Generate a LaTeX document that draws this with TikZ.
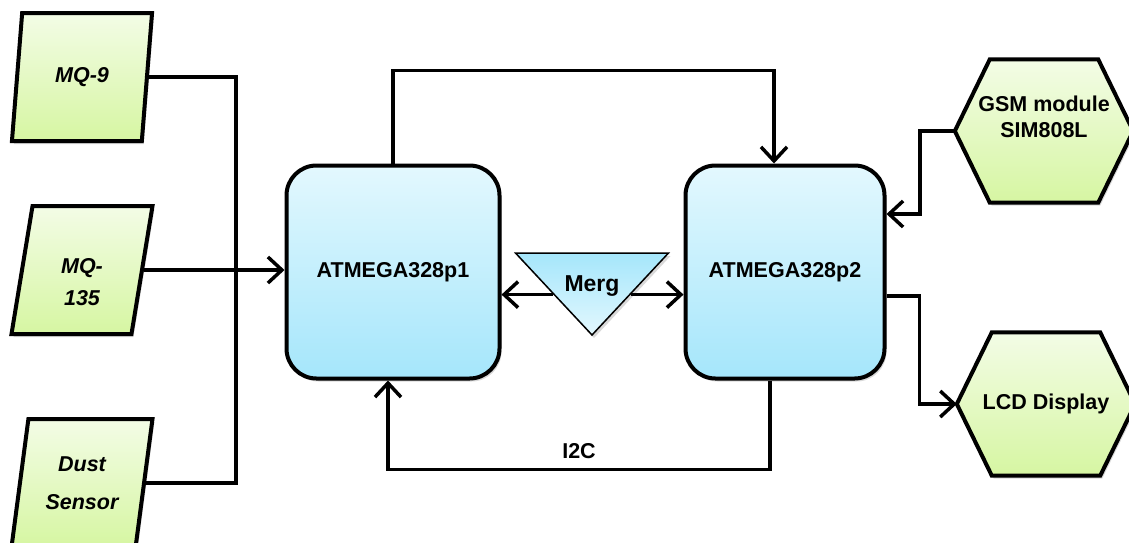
\documentclass[tikz,border=0pt]{standalone}
\usepackage{fontspec}
\setmainfont{Liberation Sans}
\usetikzlibrary{shapes.geometric,arrows.meta,shadows,backgrounds}
\definecolor{greentop}{HTML}{F3FCE6}
\definecolor{greenbot}{HTML}{D6F6A2}
\definecolor{bluetop}{HTML}{E3F8FE}
\definecolor{bluebot}{HTML}{A5E6FB}
\tikzstyle{softshadow} = [drop shadow={opacity=0.3, shadow xshift=2pt, shadow yshift=-3pt}]
\tikzstyle{sensor} = [trapezium, trapezium left angle=78, trapezium right angle=102, trapezium stretches=true, minimum width=141pt, minimum height=128pt, inner sep=2pt, draw=black, line width=4pt, top color=greentop, bottom color=greenbot, softshadow, align=center, font=\fontsize{21.5}{38}\selectfont\bfseries\itshape]
\tikzstyle{mcu} = [rectangle, rounded corners=30pt, minimum height=213pt, draw=black, line width=4pt, top color=bluetop, bottom color=bluebot, softshadow, font=\fontsize{21.5}{24}\selectfont\bfseries]
\tikzstyle{periph} = [rectangle, minimum width=178pt, minimum height=143pt, inner sep=2pt, align=center, font=\fontsize{21.5}{26}\selectfont\bfseries]
\tikzstyle{hexbox} = [draw=black, line width=4pt, top color=greentop, bottom color=greenbot, softshadow]
\tikzstyle{merge} = [isosceles triangle, shape border rotate=270, isosceles triangle stretches, minimum width=153pt, minimum height=82pt, inner sep=1pt, draw=black, line width=1.5pt, top color=bluebot, bottom color=bluetop, softshadow]
\tikzstyle{wire} = [line width=3.5pt]
\tikzstyle{arrow} = [line width=3.5pt, -{Straight Barb[length=14pt,width=26pt]}]

\begin{document}
\begin{tikzpicture}[x=1pt, y=-1pt]
\clip (0,0) rectangle (1129,542);

\node (mq9) [sensor] at (82,77) {MQ-9};
\node (mq135) [sensor, label={[align=center, font=\fontsize{21.5}{32}\selectfont\bfseries\itshape, yshift=-12pt]center:{MQ-\\135}}] at (82,270) {};
\node (dust) [sensor] at (82,483) {Dust\\Sensor};
\node (p1) [mcu, minimum width=213pt] at (393,272) {ATMEGA328p1};
\node (p2) [mcu, minimum width=199pt] at (785,272) {ATMEGA328p2};
\node (merg) [merge, label={[font=\fontsize{23}{26}\selectfont\bfseries]center:Merg}] at (592,286) {};
\node (gsm) [periph, label={[align=center, font=\fontsize{21.5}{26}\selectfont\bfseries, yshift=14pt]center:{GSM module\\SIM808L}}] at (1044,131) {};
\node (lcd) [periph] at (1046,404) {LCD Display};
\coordinate (bus) at (236,273);

\begin{scope}[on background layer]
\foreach \n in {gsm,lcd}
  \draw [hexbox] (\n.west) -- ([xshift=35pt]\n.north west) -- ([xshift=-35pt]\n.north east) -- (\n.east) -- ([xshift=-35pt]\n.south east) -- ([xshift=35pt]\n.south west) -- cycle;
\end{scope}

\draw [wire] (mq9.east) -| (bus);
\draw [wire] (dust.east) -| (bus);
\draw [arrow] (mq135.east) -- (mq135.east -| p1.west);
\draw [arrow] (p1.north) -- ++(0,-93) -| ([xshift=-11pt]p2.north);
\draw [arrow] ([xshift=-15pt]p2.south) -- ++(0,89) -| node[pos=0.25, above=6pt, font=\fontsize{21.5}{24}\selectfont\bfseries] {I2C} ([xshift=-5pt]p1.south);
\draw [arrow] (merg.right side) -- (merg.right side -| p1.east);
\draw [arrow] (merg.left side) -- (merg.left side -| p2.west);
\draw [arrow] (gsm.west) -- ++(-35,0) |- ([yshift=58pt]p2.east);
\draw [arrow] ([yshift=-24pt]p2.east) -- ++(33,0) |- (lcd.west);

\end{tikzpicture}
\end{document}
